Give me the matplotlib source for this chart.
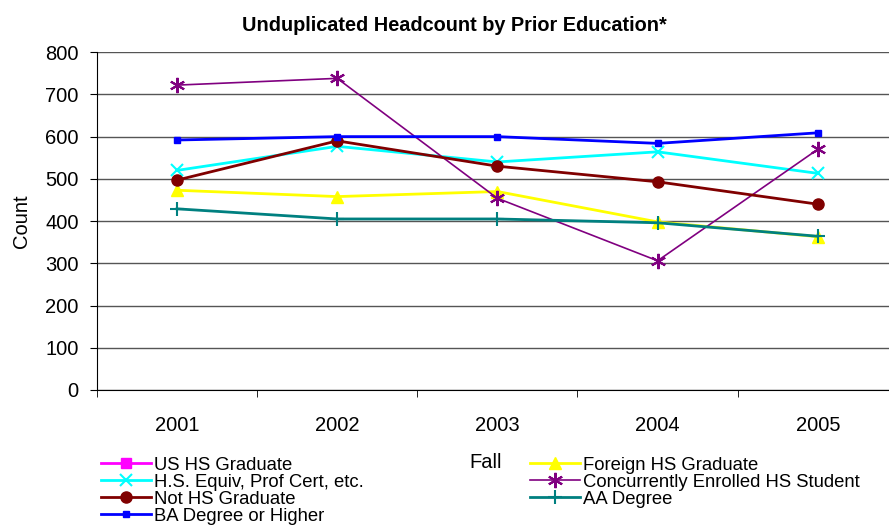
import numpy as np
import matplotlib.pyplot as plt

plt.rcParams['font.family'] = ['Liberation Sans', 'DejaVu Sans']

years = ['2001', '2002', '2003', '2004', '2005']

# US HS Graduate runs above the 800 axis limit in the original, so it is clipped
us_hs_grad = [1480, 1530, 1560, 1590, 1620]
foreign_hs_grad = [473, 458, 470, 398, 363]
hs_equiv = [520, 577, 540, 564, 513]
concurrent_hs = [722, 738, 454, 306, 570]
not_hs_grad = [497, 590, 530, 493, 440]
aa_degree = [429, 405, 405, 396, 364]
ba_or_higher = [592, 600, 600, 584, 609]

series = [
    ('US HS Graduate', us_hs_grad, '#FF00FF', 's', 7, 2.0),
    ('Foreign HS Graduate', foreign_hs_grad, '#FFFF00', '^', 9, 2.0),
    ('H.S. Equiv, Prof Cert, etc.', hs_equiv, '#00FFFF', 'x', 9, 2.0),
    ('Concurrently Enrolled HS Student', concurrent_hs, '#800080', (6, 2, 0), 11, 1.2),
    ('Not HS Graduate', not_hs_grad, '#800000', 'o', 8, 2.0),
    ('AA Degree', aa_degree, '#008080', '+', 10, 2.0),
    ('BA Degree or Higher', ba_or_higher, '#0000FF', 's', 4, 2.0),
]


def main():
    fig = plt.figure(figsize=(8.89, 5.27), dpi=100)
    ax = fig.add_axes([0.109, 0.26, 0.901, 0.641])

    x = np.arange(len(years))
    handles = {}
    for name, vals, color, marker, ms, lw in series:
        mew = 1.5 if marker in ('x', '+') or isinstance(marker, tuple) else 1
        h, = ax.plot(x, vals, color=color, marker=marker, markersize=ms,
                     linewidth=lw, markeredgewidth=mew, label=name)
        handles[name] = h

    ax.set_xlim(-0.5, len(years) - 0.5)
    ax.set_ylim(0, 800)
    ax.set_yticks(np.arange(0, 801, 100))
    ax.set_xticks(x)
    ax.set_xticklabels(years)
    ax.set_xticks(np.arange(-0.5, len(years), 1), minor=True)
    ax.tick_params(axis='x', which='major', length=0, pad=19, labelsize=14.5)
    ax.tick_params(axis='x', which='minor', length=5, direction='out')
    ax.tick_params(axis='y', length=5, direction='out', labelsize=14.5, pad=8)

    ax.grid(axis='y', color='#555555', linewidth=1)
    ax.set_axisbelow(True)
    for side in ('top', 'right'):
        ax.spines[side].set_visible(False)
    ax.spines['left'].set_color('black')
    ax.spines['bottom'].set_color('black')

    ax.set_ylabel('Count', fontsize=14.5, labelpad=10)
    ax.set_xlabel('Fall', fontsize=14.5)
    ax.xaxis.set_label_coords(0.485, -0.186)

    fig.text(0.511, 0.952, 'Unduplicated Headcount by Prior Education*',
             ha='center', va='center', fontsize=14.3, fontweight='bold')

    order = ['US HS Graduate', 'H.S. Equiv, Prof Cert, etc.', 'Not HS Graduate',
             'BA Degree or Higher', 'Foreign HS Graduate',
             'Concurrently Enrolled HS Student', 'AA Degree']
    fig.legend([handles[n] for n in order], order, ncol=2, loc='upper left',
               bbox_to_anchor=(0.1136, 0.133), frameon=False, fontsize=13.3,
               handlelength=2.7, handletextpad=0.16, labelspacing=0.0,
               columnspacing=9.0, borderpad=0, borderaxespad=0)

    fig.savefig('out.png', dpi=100)


if __name__ == '__main__':
    main()
